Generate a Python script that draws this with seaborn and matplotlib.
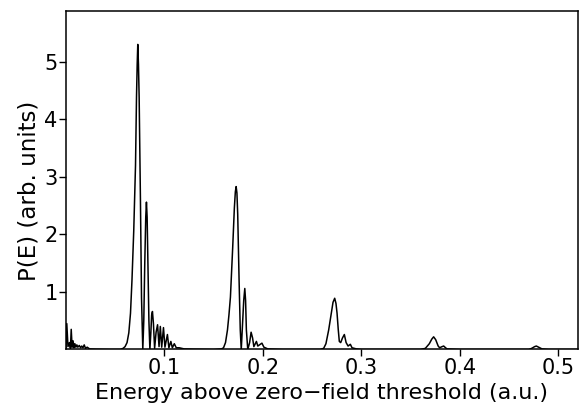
import pandas as pd
import matplotlib
matplotlib.use("Agg")
import matplotlib.pyplot as plt
import seaborn as sns

sns.set_style("ticks", {"axes.edgecolor": "black", "xtick.color": "black",
                        "ytick.color": "black", "text.color": "black",
                        "axes.labelcolor": "black"})
plt.rcParams["font.family"] = ["DejaVu Sans"]

# spectrum: energy (a.u.) and P(E) (arb. units)
energy = [
    0.0000, 0.0008, 0.0020, 0.0035, 0.0045, 0.0053, 0.0062, 0.0072, 0.0080, 0.0090,
    0.0100, 0.0110, 0.0120, 0.0135, 0.0148, 0.0160, 0.0172, 0.0185, 0.0198, 0.0215,
    0.0240, 0.0300, 0.0450, 0.0550, 0.0580, 0.0600, 0.0620, 0.0638, 0.0655, 0.0670,
    0.0688, 0.0706, 0.0716, 0.0723, 0.0729, 0.0736, 0.0743, 0.0756, 0.0767, 0.0780,
    0.0790, 0.0800, 0.0810, 0.0817, 0.0824, 0.0832, 0.0842, 0.0852, 0.0862, 0.0870,
    0.0878, 0.0888, 0.0900, 0.0915, 0.0930, 0.0945, 0.0958, 0.0972, 0.0990, 0.1005,
    0.1030, 0.1045, 0.1065, 0.1080, 0.1100, 0.1120, 0.1150, 0.1200, 0.1300, 0.1500,
    0.1580, 0.1600, 0.1620, 0.1640, 0.1655, 0.1670, 0.1693, 0.1710, 0.1720, 0.1728,
    0.1736, 0.1744, 0.1758, 0.1770, 0.1780, 0.1795, 0.1805, 0.1816, 0.1824, 0.1832,
    0.1846, 0.1865, 0.1880, 0.1895, 0.1908, 0.1922, 0.1934, 0.1948, 0.1965, 0.1990,
    0.2010, 0.2050, 0.2200, 0.2580, 0.2617, 0.2640, 0.2668, 0.2695, 0.2712, 0.2729,
    0.2742, 0.2753, 0.2765, 0.2776, 0.2790, 0.2808, 0.2827, 0.2845, 0.2865, 0.2888,
    0.2905, 0.2950, 0.3000, 0.3600, 0.3650, 0.3690, 0.3715, 0.3734, 0.3755, 0.3780,
    0.3795, 0.3820, 0.3836, 0.3855, 0.3870, 0.4000, 0.4700, 0.4730, 0.4760, 0.4777,
    0.4800, 0.4835, 0.4900, 0.5200,
]
prob = [
    0.02, 0.45, 0.05, 0.12, 0.02, 0.35, 0.04, 0.15, 0.03, 0.10,
    0.04, 0.08, 0.04, 0.07, 0.03, 0.06, 0.03, 0.08, 0.02, 0.04,
    0.01, 0.005, 0.0, 0.0, 0.02, 0.05, 0.12, 0.29, 0.63, 1.2,
    2.06, 3.2, 4.38, 4.95, 5.3, 4.95, 4.38, 2.6, 0.9, 0.0,
    0.5, 1.5, 2.3, 2.56, 2.3, 1.5, 0.5, 0.0, 0.3, 0.6,
    0.66, 0.45, 0.02, 0.3, 0.43, 0.05, 0.40, 0.04, 0.38, 0.04,
    0.26, 0.03, 0.14, 0.03, 0.10, 0.03, 0.03, 0.01, 0.005, 0.0,
    0.01, 0.03, 0.12, 0.34, 0.6, 0.91, 1.77, 2.46, 2.74, 2.83,
    2.72, 2.35, 1.2, 0.34, 0.0, 0.5, 0.85, 1.06, 0.85, 0.34,
    0.0, 0.12, 0.30, 0.2, 0.05, 0.10, 0.14, 0.06, 0.08, 0.11,
    0.04, 0.01, 0.0, 0.0, 0.02, 0.1, 0.34, 0.63, 0.82, 0.89,
    0.8, 0.63, 0.35, 0.14, 0.12, 0.2, 0.26, 0.12, 0.06, 0.09,
    0.03, 0.01, 0.0, 0.0, 0.02, 0.10, 0.18, 0.22, 0.17, 0.06,
    0.03, 0.05, 0.06, 0.03, 0.01, 0.0, 0.0, 0.02, 0.05, 0.06,
    0.04, 0.01, 0.0, 0.0,
]
x_ticks = [0.1, 0.2, 0.3, 0.4, 0.5]
y_ticks = [1, 2, 3, 4, 5]

df = pd.DataFrame({"E": energy, "P": prob})

fig = plt.figure(figsize=(5.81, 4.08), dpi=100)
ax = fig.add_axes([0.1136, 0.1434, 0.8812, 0.8296])
sns.lineplot(data=df, x="E", y="P", ax=ax, color="black", lw=1.1,
             estimator=None, sort=False)

ax.set_xlim(0, 0.52)
ax.set_ylim(0, 5.88)
ax.set_xticks(x_ticks)
ax.set_xticklabels([f"{t:.1f}" for t in x_ticks])
ax.set_yticks(y_ticks)
ax.tick_params(direction="out", length=5, width=1, labelsize=15)
ax.tick_params(axis="x", pad=1)
ax.tick_params(axis="y", pad=1)
for s in ax.spines.values():
    s.set_linewidth(1.1)
ax.set_xlabel("Energy above zero\u2212field threshold (a.u.)", fontsize=16)
ax.set_ylabel("P(E) (arb. units)", fontsize=16.5)
ax.xaxis.set_label_coords(0.5, -0.098)
ax.yaxis.set_label_coords(-0.05, 0.47)

fig.savefig("out.png", dpi=100)
